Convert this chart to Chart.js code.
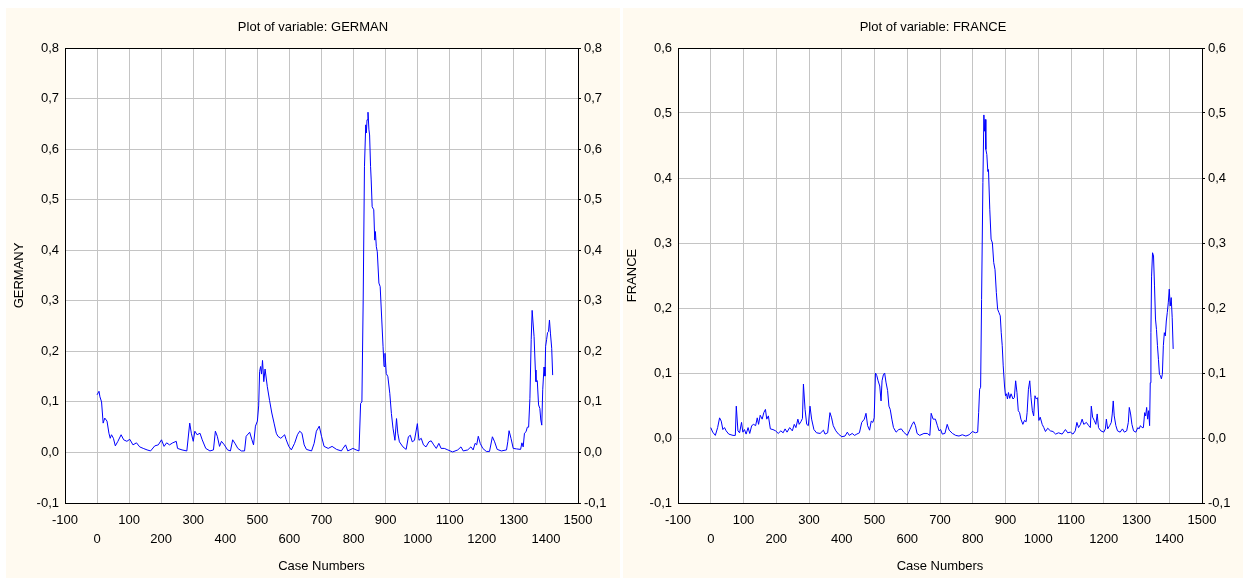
<!DOCTYPE html>
<html>
<head>
<meta charset="utf-8">
<script src="https://cdn.jsdelivr.net/npm/chart.js@4.4.1/dist/chart.umd.min.js"></script>
<style>
    body { margin: 0; background: #ffffff; width: 1243px; height: 581px; overflow: hidden; position: relative; }
    .panel { position: absolute; top: 8px; height: 570px; background: #fffaf0; }
    #germanyPanel { left: 6px; width: 614px; }
    #francePanel { left: 623px; width: 620px; }
</style>
</head>
<body>
<div class="panel" id="germanyPanel"><canvas id="germanyChart" width="614" height="570"></canvas></div>
<div class="panel" id="francePanel"><canvas id="franceChart" width="620" height="570"></canvas></div>
<script>
const germanyCases = [0, 6, 9, 14, 19, 24, 31, 37, 41, 45, 51, 57, 65, 75, 83, 93, 102, 112, 123, 133, 144, 156, 167, 180, 191, 201, 209, 217, 226, 236, 247, 251, 265, 280, 289, 294, 300, 305, 312, 321, 328, 339, 352, 363, 369, 375, 382, 388, 397, 407, 416, 423, 431, 439, 450, 460, 465, 476, 483, 488, 494, 500, 504, 507, 510, 513, 516, 520, 524, 531, 538, 545, 552, 559, 564, 573, 580, 585, 590, 598, 606, 616, 625, 632, 639, 646, 653, 669, 677, 684, 693, 700, 708, 721, 733, 747, 762, 767, 775, 782, 798, 808, 817, 822, 826, 830, 834, 838, 840, 842, 845, 848, 850, 853, 855, 858, 863, 866, 868, 871, 874, 879, 883, 888, 892, 895, 898, 902, 907, 913, 918, 923, 929, 934, 938, 943, 954, 964, 971, 977, 983, 990, 999, 1004, 1011, 1018, 1026, 1035, 1042, 1050, 1058, 1066, 1073, 1083, 1094, 1109, 1125, 1135, 1142, 1156, 1166, 1173, 1179, 1184, 1189, 1195, 1203, 1214, 1224, 1233, 1240, 1248, 1261, 1277, 1281, 1285, 1291, 1298, 1308, 1321, 1325, 1329, 1333, 1338, 1342, 1346, 1350, 1354, 1357, 1363, 1367, 1369, 1373, 1377, 1381, 1384, 1387, 1390, 1394, 1397, 1399, 1402, 1405, 1408, 1411, 1414, 1418, 1421];
const germanyValues = [0.114, 0.121, 0.11, 0.10, 0.058, 0.068, 0.062, 0.038, 0.028, 0.035, 0.028, 0.013, 0.022, 0.035, 0.025, 0.022, 0.026, 0.015, 0.019, 0.011, 0.008, 0.005, 0.003, 0.013, 0.015, 0.025, 0.012, 0.019, 0.015, 0.019, 0.022, 0.008, 0.005, 0.003, 0.058, 0.038, 0.022, 0.042, 0.035, 0.038, 0.025, 0.008, 0.003, 0.005, 0.042, 0.032, 0.012, 0.022, 0.015, 0.005, 0.003, 0.025, 0.017, 0.008, 0.003, 0.003, 0.032, 0.04, 0.025, 0.015, 0.052, 0.062, 0.092, 0.16, 0.17, 0.155, 0.182, 0.14, 0.165, 0.13, 0.103, 0.078, 0.058, 0.038, 0.032, 0.028, 0.032, 0.035, 0.025, 0.012, 0.005, 0.018, 0.035, 0.042, 0.038, 0.015, 0.006, 0.003, 0.018, 0.042, 0.052, 0.032, 0.012, 0.008, 0.012, 0.006, 0.003, 0.008, 0.015, 0.003, 0.008, 0.005, 0.003, 0.097, 0.1, 0.3, 0.565, 0.648, 0.632, 0.658, 0.673, 0.638, 0.628, 0.566, 0.539, 0.486, 0.48, 0.42, 0.437, 0.407, 0.397, 0.335, 0.328, 0.262, 0.209, 0.17, 0.196, 0.156, 0.15, 0.117, 0.077, 0.048, 0.024, 0.067, 0.038, 0.021, 0.011, 0.006, 0.031, 0.034, 0.021, 0.024, 0.057, 0.024, 0.028, 0.015, 0.011, 0.021, 0.023, 0.015, 0.008, 0.018, 0.008, 0.008, 0.005, 0.001, 0.005, 0.011, 0.003, 0.005, 0.011, 0.005, 0.018, 0.015, 0.032, 0.018, 0.008, 0.002, 0.002, 0.031, 0.021, 0.006, 0.003, 0.005, 0.021, 0.043, 0.028, 0.008, 0.007, 0.006, 0.019, 0.011, 0.038, 0.041, 0.05, 0.05, 0.107, 0.223, 0.281, 0.229, 0.163, 0.14, 0.142, 0.094, 0.087, 0.064, 0.054, 0.124, 0.169, 0.151, 0.21, 0.223, 0.237, 0.239, 0.262, 0.236, 0.206, 0.153];

const franceCases = [0, 6, 14, 21, 27, 32, 37, 42, 47, 55, 68, 75, 78, 83, 88, 94, 98, 103, 108, 114, 119, 125, 131, 137, 142, 146, 151, 157, 162, 167, 171, 176, 182, 190, 198, 206, 214, 221, 227, 233, 241, 249, 255, 260, 266, 270, 275, 280, 283, 288, 293, 298, 303, 308, 315, 323, 334, 344, 349, 357, 364, 369, 374, 382, 390, 400, 410, 417, 423, 432, 439, 446, 454, 461, 469, 474, 479, 485, 490, 495, 499, 503, 507, 511, 516, 520, 523, 527, 531, 535, 540, 544, 548, 553, 558, 566, 574, 582, 589, 600, 608, 615, 620, 625, 630, 638, 651, 661, 669, 673, 679, 686, 692, 697, 702, 707, 715, 722, 728, 738, 748, 758, 768, 779, 789, 799, 808, 815, 818, 821, 824, 827, 831, 834, 836, 838, 840, 843, 846, 848, 852, 856, 860, 864, 868, 872, 876, 880, 884, 887, 890, 893, 897, 900, 903, 906, 909, 913, 917, 923, 927, 931, 935, 939, 943, 947, 953, 958, 963, 966, 970, 974, 978, 982, 986, 990, 994, 998, 1002, 1006, 1012, 1017, 1022, 1029, 1037, 1045, 1053, 1062, 1073, 1083, 1090, 1098, 1106, 1113, 1118, 1123, 1129, 1134, 1139, 1147, 1154, 1159, 1162, 1166, 1171, 1176, 1180, 1184, 1191, 1200, 1205, 1208, 1212, 1218, 1223, 1226, 1229, 1232, 1237, 1242, 1250, 1257, 1263, 1270, 1275, 1278, 1282, 1286, 1291, 1298, 1304, 1308, 1312, 1317, 1321, 1325, 1328, 1331, 1334, 1337, 1340, 1342, 1344, 1346, 1349, 1352, 1355, 1358, 1361, 1364, 1367, 1370, 1373, 1376, 1379, 1382, 1385, 1388, 1391, 1394, 1397, 1400, 1403, 1406, 1409, 1412];
const franceValues = [0.016, 0.009, 0.004, 0.016, 0.031, 0.026, 0.013, 0.016, 0.011, 0.006, 0.004, 0.004, 0.049, 0.011, 0.008, 0.024, 0.009, 0.013, 0.006, 0.016, 0.007, 0.019, 0.021, 0.019, 0.031, 0.021, 0.035, 0.029, 0.039, 0.044, 0.029, 0.034, 0.014, 0.013, 0.011, 0.007, 0.011, 0.008, 0.014, 0.009, 0.016, 0.011, 0.021, 0.016, 0.029, 0.021, 0.025, 0.03, 0.083, 0.044, 0.021, 0.019, 0.049, 0.029, 0.013, 0.008, 0.007, 0.012, 0.006, 0.008, 0.039, 0.031, 0.019, 0.011, 0.006, 0.002, 0.003, 0.009, 0.004, 0.007, 0.004, 0.006, 0.008, 0.024, 0.029, 0.038, 0.019, 0.012, 0.026, 0.024, 0.031, 0.1, 0.096, 0.088, 0.08, 0.057, 0.088, 0.097, 0.1, 0.086, 0.073, 0.049, 0.044, 0.029, 0.016, 0.009, 0.013, 0.014, 0.009, 0.004, 0.013, 0.021, 0.025, 0.019, 0.007, 0.004, 0.007, 0.007, 0.004, 0.038, 0.029, 0.029, 0.019, 0.011, 0.013, 0.006, 0.007, 0.021, 0.012, 0.007, 0.004, 0.003, 0.005, 0.003, 0.005, 0.01, 0.008, 0.009, 0.039, 0.075, 0.078, 0.213, 0.393, 0.497, 0.472, 0.49, 0.444, 0.436, 0.41, 0.413, 0.352, 0.306, 0.3, 0.27, 0.259, 0.224, 0.198, 0.193, 0.188, 0.162, 0.142, 0.111, 0.08, 0.065, 0.068, 0.06, 0.07, 0.061, 0.068, 0.06, 0.062, 0.088, 0.07, 0.042, 0.039, 0.029, 0.021, 0.027, 0.025, 0.039, 0.075, 0.088, 0.062, 0.042, 0.034, 0.065, 0.06, 0.062, 0.027, 0.032, 0.021, 0.016, 0.01, 0.015, 0.011, 0.01, 0.006, 0.008, 0.006, 0.013, 0.008, 0.009, 0.006, 0.011, 0.024, 0.016, 0.021, 0.029, 0.021, 0.024, 0.019, 0.016, 0.049, 0.032, 0.027, 0.021, 0.037, 0.016, 0.011, 0.009, 0.014, 0.029, 0.014, 0.019, 0.024, 0.037, 0.057, 0.034, 0.019, 0.011, 0.009, 0.014, 0.009, 0.011, 0.024, 0.047, 0.037, 0.021, 0.011, 0.009, 0.016, 0.014, 0.019, 0.016, 0.016, 0.039, 0.034, 0.047, 0.029, 0.042, 0.019, 0.085, 0.162, 0.249, 0.285, 0.28, 0.234, 0.183, 0.167, 0.142, 0.121, 0.098, 0.096, 0.091, 0.098, 0.142, 0.162, 0.157, 0.18, 0.193, 0.208, 0.229, 0.203, 0.216, 0.185, 0.137];

const caseRange = [-100, 1500];
const germanyRange = [-0.1, 0.8];
const franceRange = [-0.1, 0.6];

const FONT = 'Liberation Sans, Arial, sans-serif';
const GRID = '#c4c4c4';

// white plot area + black frame round it
const plotFrame = {
    id: 'plotFrame',
    beforeDraw(chart) {
        const a = chart.chartArea, ctx = chart.ctx;
        ctx.save();
        ctx.fillStyle = '#ffffff';
        ctx.fillRect(a.left, a.top, a.right - a.left, a.bottom - a.top);
        ctx.restore();
    },
    afterDraw(chart) {
        const a = chart.chartArea, ctx = chart.ctx;
        ctx.save();
        ctx.strokeStyle = '#000000';
        ctx.lineWidth = 1;
        ctx.strokeRect(Math.round(a.left) + 0.5, Math.round(a.top) + 0.5,
            Math.round(a.right - a.left), Math.round(a.bottom - a.top));
        ctx.restore();
    }
};

const comma = v => (Math.round(v * 10) / 10).toFixed(1).replace('.', ',');

function makePlot(canvasId, cases, values, name, yTitle, range, leftW, rightW, yTitlePad) {
    const pts = cases.map((c, i) => ({ x: c, y: values[i] }));
    return new Chart(document.getElementById(canvasId).getContext('2d'), {
        type: 'line',
        data: {
            datasets: [{
                data: pts,
                borderColor: '#0000ff',
                borderWidth: 1,
                pointRadius: 0,
                tension: 0,
                fill: false
            }]
        },
        options: {
            responsive: false,
            animation: false,
            layout: { padding: 0 },
            plugins: {
                legend: { display: false },
                tooltip: { enabled: false },
                title: {
                    display: true,
                    text: 'Plot of variable: ' + name,
                    color: '#000',
                    font: { family: FONT, size: 13, weight: 'normal' },
                    padding: { top: 12, bottom: 12.4 }
                }
            },
            scales: {
                x: {
                    type: 'linear',
                    min: caseRange[0],
                    max: caseRange[1],
                    afterFit: s => { s.height = 75; },
                    border: { display: false },
                    grid: { color: GRID, drawTicks: false },
                    ticks: {
                        stepSize: 100,
                        autoSkip: false,
                        maxRotation: 0,
                        minRotation: 0,
                        padding: 8,
                        color: '#000',
                        font: { family: FONT, size: 13, lineHeight: '19.2px' },
                        callback: v => (Math.round(v / 100) % 2 === 0) ? ['', String(v)] : String(v)
                    },
                    title: {
                        display: true,
                        text: 'Case Numbers',
                        color: '#000',
                        font: { family: FONT, size: 13 },
                        padding: { top: 0, bottom: 3.3 }
                    }
                },
                y: {
                    min: range[0],
                    max: range[1],
                    afterFit: s => { s.width = leftW; },
                    border: { display: false },
                    grid: { color: GRID, drawTicks: false },
                    ticks: {
                        stepSize: 0.1,
                        padding: 6,
                        color: '#000',
                        font: { family: FONT, size: 13 },
                        callback: comma
                    },
                    title: {
                        display: true,
                        text: yTitle,
                        color: '#000',
                        font: { family: FONT, size: 13 },
                        padding: { top: yTitlePad, bottom: 0 }
                    }
                },
                y2: {
                    position: 'right',
                    min: range[0],
                    max: range[1],
                    afterFit: s => { s.width = rightW; },
                    border: { display: false },
                    grid: { drawOnChartArea: false, drawTicks: true, tickLength: 3, tickColor: '#000' },
                    ticks: {
                        stepSize: 0.1,
                        padding: 3,
                        color: '#000',
                        font: { family: FONT, size: 13 },
                        callback: comma
                    }
                }
            }
        },
        plugins: [plotFrame]
    });
}

var germanyChart = makePlot('germanyChart', germanyCases, germanyValues, 'GERMAN', 'GERMANY', germanyRange, 59, 42, 5.2);
var franceChart = makePlot('franceChart', franceCases, franceValues, 'FRANCE', 'FRANCE', franceRange, 55, 41, 1.2);
</script>
</body>
</html>
